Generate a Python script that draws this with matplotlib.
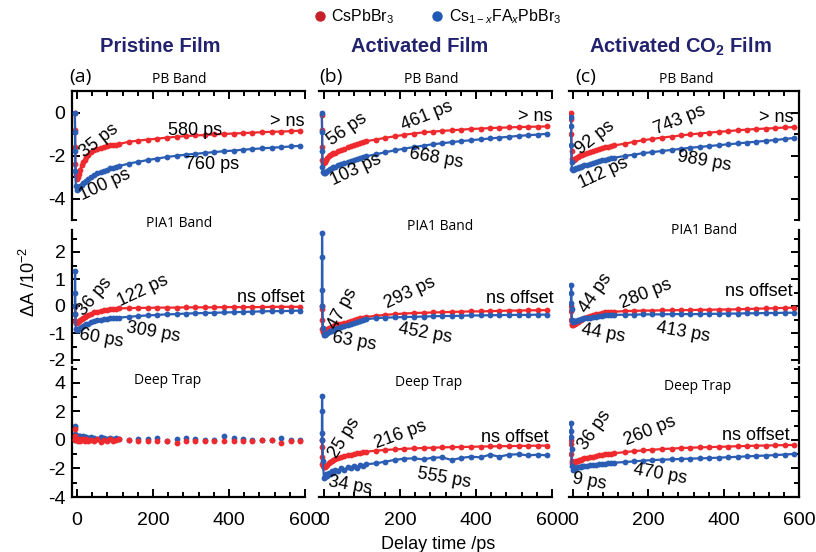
import matplotlib
matplotlib.use("Agg")
import matplotlib.pyplot as plt
from matplotlib import font_manager
from matplotlib.lines import Line2D
from matplotlib.ticker import MultipleLocator

# delay times (ps): dense early part, then the sparse long-time points
t_early = [-5.5, -5, -4.5, -4, -3, 0, 2, 5, 8, 12, 16, 20, 25, 30, 38, 46, 54, 62, 70, 78, 86, 94, 102, 110]
t_late = [137, 161, 186, 211, 236, 262, 286, 311, 336, 361, 387, 412, 437, 461, 486, 512, 537, 563, 587]
delay = t_early + t_late

# dA / 10^-2, CsPbBr3 (cs) and Cs1-xFAxPbBr3 (fa)
pb_pristine_cs = [0, -0.8, -1.6, -2.4, -2.9, -3.1, -3.0, -2.85, -2.65, -2.45, -2.3, -2.2, -2.07, -1.97, -1.83, -1.74,
                  -1.67, -1.62, -1.58, -1.54, -1.52, -1.5, -1.48, -1.46,
                  -1.35, -1.3, -1.25, -1.21, -1.16, -1.12, -1.09, -1.06, -1.04, -1.01, -0.99, -0.97, -0.95, -0.93,
                  -0.91, -0.89, -0.88, -0.86, -0.84]
pb_pristine_fa = [0, -0.9, -1.8, -2.7, -3.4, -3.58, -3.55, -3.5, -3.42, -3.35, -3.28, -3.22, -3.15, -3.08, -2.98, -2.9,
                  -2.82, -2.75, -2.69, -2.64, -2.59, -2.55, -2.51, -2.48,
                  -2.36, -2.28, -2.2, -2.13, -2.06, -2.0, -1.95, -1.91, -1.87, -1.83, -1.79, -1.76, -1.72, -1.69,
                  -1.66, -1.63, -1.6, -1.57, -1.54]
pia_pristine_cs = [0, 0.0, -0.3, -0.55, -0.62, -0.63, -0.6, -0.56, -0.52, -0.47, -0.43, -0.4, -0.36, -0.33, -0.28, -0.24,
                   -0.21, -0.18, -0.16, -0.14, -0.12, -0.11, -0.1, -0.09,
                   -0.08, -0.07, -0.07, -0.06, -0.06, -0.06, -0.05, -0.05, -0.05, -0.05, -0.04, -0.04, -0.04, -0.04,
                   -0.04, -0.03, -0.03, -0.03, -0.03]
pia_pristine_fa = [0, 1.3, 0.5, -0.3, -0.85, -0.89, -0.88, -0.85, -0.82, -0.78, -0.74, -0.71, -0.68, -0.65, -0.6, -0.56,
                   -0.53, -0.51, -0.49, -0.47, -0.46, -0.45, -0.44, -0.43,
                   -0.4, -0.37, -0.35, -0.33, -0.31, -0.3, -0.28, -0.27, -0.26, -0.25, -0.24, -0.23, -0.22, -0.21,
                   -0.2, -0.19, -0.19, -0.18, -0.17]
deep_pristine_cs = [0, 0.1, 0.8, 0.3, 0.1, 0.0, -0.1, 0.05, -0.05, 0.1, 0.0, -0.1, 0.05, -0.05, 0.0, -0.1,
                    0.05, -0.15, 0.0, -0.1, 0.05, -0.05, 0.0, 0.05,
                    0.0, -0.05, -0.09, -0.05, -0.05, -0.19, -0.05, -0.05, -0.05, -0.05, -0.05, -0.05, -0.05, -0.05,
                    0.0, 0.0, -0.19, -0.05, -0.05]
deep_pristine_fa = [0, 1.0, 0.9, 0.4, 0.3, 0.3, 0.25, 0.3, 0.25, 0.2, 0.25, 0.2, 0.2, 0.15, 0.2, 0.15,
                    0.1, 0.2, 0.15, 0.1, 0.15, 0.1, 0.15, 0.1,
                    0.0, 0.07, 0.07, 0.14, -0.05, 0.05, 0.14, 0.09, 0.0, 0.0, 0.28, 0.14, 0.07, 0.0,
                    0.0, 0.02, 0.16, 0.0, 0.0]

pb_activated_cs = [-0.1, -0.8, -1.6, -2.2, -2.35, -2.35, -2.3, -2.2, -2.12, -2.03, -1.96, -1.92, -1.89, -1.86, -1.8, -1.74,
                   -1.68, -1.6, -1.55, -1.49, -1.45, -1.4, -1.36, -1.33,
                   -1.25, -1.17, -1.1, -1.03, -0.97, -0.92, -0.88, -0.85, -0.82, -0.79, -0.76, -0.74, -0.72, -0.7,
                   -0.69, -0.67, -0.66, -0.65, -0.64]
pb_activated_fa = [0, -0.9, -1.8, -2.5, -2.75, -2.8, -2.78, -2.74, -2.7, -2.66, -2.62, -2.58, -2.54, -2.5, -2.45, -2.4,
                   -2.35, -2.29, -2.24, -2.19, -2.14, -2.1, -2.06, -2.03,
                   -1.93, -1.84, -1.75, -1.67, -1.6, -1.53, -1.47, -1.42, -1.37, -1.32, -1.28, -1.24, -1.2, -1.16,
                   -1.12, -1.08, -1.05, -1.02, -0.98]
pia_activated_cs = [0, -0.1, -0.5, -0.85, -0.95, -0.95, -0.93, -0.9, -0.87, -0.83, -0.8, -0.77, -0.74, -0.71, -0.68, -0.65,
                    -0.62, -0.58, -0.55, -0.52, -0.48, -0.45, -0.43, -0.41,
                    -0.36, -0.33, -0.3, -0.28, -0.26, -0.25, -0.24, -0.23, -0.22, -0.21, -0.2, -0.2, -0.19, -0.18,
                    -0.17, -0.17, -0.16, -0.16, -0.15]
pia_activated_fa = [0, 2.7, 1.8, 0.6, -0.8, -1.07, -1.06, -1.03, -1.0, -0.97, -0.94, -0.91, -0.88, -0.85, -0.8, -0.78,
                    -0.75, -0.7, -0.66, -0.62, -0.58, -0.55, -0.52, -0.49,
                    -0.45, -0.43, -0.42, -0.41, -0.4, -0.39, -0.38, -0.37, -0.37, -0.36, -0.35, -0.35, -0.34, -0.34,
                    -0.33, -0.33, -0.33, -0.32, -0.32]
deep_activated_cs = [0, -0.5, -1.2, -1.7, -1.85, -1.9, -1.87, -1.8, -1.72, -1.63, -1.55, -1.49, -1.42, -1.36, -1.28, -1.21,
                     -1.15, -1.08, -1.03, -0.98, -0.93, -0.89, -0.85, -0.82,
                     -0.75, -0.7, -0.66, -0.62, -0.59, -0.56, -0.54, -0.52, -0.5, -0.49, -0.48, -0.46, -0.45, -0.44,
                     -0.43, -0.42, -0.41, -0.4, -0.4]
deep_activated_fa = [0, 3.1, 2.0, 0.5, -1.5, -2.7, -2.6, -2.4, -2.5, -2.3, -2.4, -2.2, -2.3, -2.1, -2.2, -2.0,
                     -2.1, -1.9, -2.0, -1.8, -1.95, -1.75, -1.85, -1.7,
                     -1.64, -1.52, -1.4, -1.31, -1.29, -1.36, -1.24, -1.22, -1.4, -1.26, -1.17, -1.22, -1.03, -1.17,
                     -1.03, -1.0, -1.08, -1.03, -1.08]

pb_co2_cs = [0, -0.3, -1.0, -1.8, -2.15, -2.2, -2.18, -2.14, -2.1, -2.06, -2.02, -1.98, -1.95, -1.92, -1.87, -1.83,
             -1.8, -1.74, -1.69, -1.65, -1.61, -1.58, -1.55, -1.52,
             -1.44, -1.36, -1.28, -1.22, -1.16, -1.11, -1.06, -1.01, -0.97, -0.93, -0.89, -0.86, -0.82, -0.79,
             -0.76, -0.74, -0.72, -0.69, -0.67]
pb_co2_fa = [-0.2, -0.6, -1.5, -2.3, -2.6, -2.65, -2.63, -2.6, -2.57, -2.55, -2.52, -2.5, -2.47, -2.45, -2.41, -2.37,
             -2.34, -2.29, -2.25, -2.21, -2.18, -2.15, -2.12, -2.09,
             -2.01, -1.95, -1.88, -1.83, -1.78, -1.73, -1.68, -1.63, -1.59, -1.55, -1.51, -1.47, -1.43, -1.39,
             -1.35, -1.31, -1.27, -1.22, -1.18]
pia_co2_cs = [0, -0.2, -0.5, -0.65, -0.7, -0.7, -0.68, -0.65, -0.62, -0.58, -0.55, -0.51, -0.48, -0.45, -0.41, -0.37,
              -0.33, -0.31, -0.28, -0.26, -0.24, -0.23, -0.22, -0.21,
              -0.19, -0.18, -0.17, -0.17, -0.16, -0.16, -0.15, -0.15, -0.14, -0.14, -0.13, -0.13, -0.12, -0.11,
              -0.1, -0.09, -0.08, -0.07, -0.06]
pia_co2_fa = [0.1, 0.78, 0.5, -0.1, -0.5, -0.58, -0.57, -0.56, -0.54, -0.52, -0.5, -0.49, -0.47, -0.46, -0.44, -0.43,
              -0.42, -0.4, -0.38, -0.36, -0.35, -0.34, -0.33, -0.33,
              -0.32, -0.32, -0.31, -0.31, -0.31, -0.3, -0.3, -0.3, -0.3, -0.29, -0.29, -0.28, -0.28, -0.27,
              -0.27, -0.26, -0.26, -0.25, -0.25]
deep_co2_cs = [0, -0.3, -1.0, -1.5, -1.63, -1.64, -1.6, -1.55, -1.5, -1.45, -1.41, -1.37, -1.33, -1.29, -1.24, -1.2,
               -1.16, -1.11, -1.07, -1.03, -1.0, -0.98, -0.95, -0.93,
               -0.85, -0.79, -0.73, -0.68, -0.64, -0.6, -0.57, -0.54, -0.52, -0.5, -0.48, -0.46, -0.44, -0.42,
               -0.4, -0.39, -0.37, -0.36, -0.35]
deep_co2_fa = [0.2, 1.2, 0.6, -0.6, -1.8, -2.1, -2.05, -2.0, -1.95, -1.92, -1.9, -1.88, -1.85, -1.83, -1.8, -1.78,
               -1.75, -1.72, -1.7, -1.68, -1.65, -1.63, -1.61, -1.59,
               -1.55, -1.5, -1.45, -1.41, -1.38, -1.36, -1.33, -1.31, -1.29, -1.27, -1.24, -1.21, -1.18, -1.15,
               -1.12, -1.09, -1.06, -1.02, -0.98]

col_titles = ["Pristine Film", "Activated Film", r"Activated CO$_\mathbf{2}$ Film"]
row_titles = ["PB Band", "PIA1 Band", "Deep Trap"]
panel_letters = ["(a)", "(b)", "(c)"]

# fitted lifetimes written on each panel: (text, delay, dA, angle[, align])
labels = {
    (0, 0): [("35 ps", 58, -1.3, 38), ("580 ps", 310, -0.82, 0), ("> ns", 600, -0.42, 0, "right"),
             ("100 ps", 74, -3.35, 25), ("760 ps", 355, -2.4, 0)],
    (1, 0): [("36 ps", 47, 0.33, 50), ("122 ps", 174, 0.55, 25), ("ns offset", 600, 0.33, 0, "right"),
             ("60 ps", 63, -1.2, -10), ("309 ps", 200, -0.96, -10)],
    (0, 1): [("56 ps", 60, -0.8, 35), ("461 ps", 270, -0.17, 22), ("> ns", 600, -0.17, 0, "right"),
             ("103 ps", 83, -2.65, 25), ("668 ps", 296, -2.1, -10)],
    (1, 1): [("47 ps", 49, -0.09, 62), ("293 ps", 226, 0.47, 25), ("ns offset", 605, 0.26, 0, "right"),
             ("63 ps", 79, -1.32, -10), ("452 ps", 266, -1.01, -10)],
    (2, 1): [("25 ps", 53, 0.12, 58), ("216 ps", 202, 0.35, 20), ("ns offset", 592, 0.2, 0, "right"),
             ("34 ps", 68, -3.16, -10), ("555 ps", 316, -2.7, -10)],
    (0, 2): [("92 ps", 58, -1.18, 38), ("743 ps", 284, -0.33, 22), ("> ns", 585, -0.25, 0, "right"),
             ("112 ps", 80, -2.8, 25), ("989 ps", 347, -2.26, -10)],
    (1, 2): [("44 ps", 61, 0.49, 55), ("280 ps", 194, 0.44, 22), ("ns offset", 582, 0.53, 0, "right"),
             ("44 ps", 79, -1.01, -10), ("413 ps", 293, -0.99, -10)],
    (2, 2): [("36 ps", 58, 0.7, 55), ("260 ps", 204, 0.65, 22), ("ns offset", 576, 0.35, 0, "right"),
             ("9 ps", 43, -2.9, -10), ("470 ps", 231, -2.4, -10)],
}

data = {
    (0, 0): (pb_pristine_cs, pb_pristine_fa), (1, 0): (pia_pristine_cs, pia_pristine_fa),
    (2, 0): (deep_pristine_cs, deep_pristine_fa),
    (0, 1): (pb_activated_cs, pb_activated_fa), (1, 1): (pia_activated_cs, pia_activated_fa),
    (2, 1): (deep_activated_cs, deep_activated_fa),
    (0, 2): (pb_co2_cs, pb_co2_fa), (1, 2): (pia_co2_cs, pia_co2_fa), (2, 2): (deep_co2_cs, deep_co2_fa),
}

red = "#ee2a2f"
blue = "#2a5db3"
navy = "#22226e"

names = {f.name for f in font_manager.fontManager.ttflist}
narrow = "Liberation Sans Narrow" if "Liberation Sans Narrow" in names else "Liberation Sans"

plt.rcParams["font.family"] = ["Liberation Sans", "DejaVu Sans"]
plt.rcParams["axes.unicode_minus"] = False
plt.rcParams["mathtext.fontset"] = "custom"
plt.rcParams["mathtext.rm"] = "Liberation Sans"
plt.rcParams["mathtext.it"] = "Liberation Sans:italic"
plt.rcParams["mathtext.bf"] = narrow + ":bold"

W, H = 816, 552
fig = plt.figure(figsize=(W / 100, H / 100), dpi=100)

col_px = [(72.4, 305), (319.4, 552), (568.5, 799)]
row_px = [(91, 220.5), (230.4, 362.7), (367.3, 497)]
ylims = [(-5, 1.0), (-2.1, 2.8), (-4, 5.1)]
y_major = [2, 1, 2]
y_minor = [1, 0.5, 1]
title_x = [(0.46, 0.48, 0.51), (0.46, 0.52, 0.59), (0.41, 0.47, 0.56)]
title_y = [(1.09, 1.09, 1.09), (1.05, 1.03, 1.0), (0.9, 0.88, 0.85)]
letter_x = [-0.015, 0.0, 0.028]

for c in range(3):
    x0, x1 = col_px[c]
    for r in range(3):
        y0, y1 = row_px[r]
        ax = fig.add_axes([x0 / W, 1 - y1 / H, (x1 - x0) / W, (y1 - y0) / H])
        ax.patch.set_alpha(0)
        cs, fa = data[(r, c)]
        if (r, c) == (2, 0):
            ax.plot(delay, fa, "o", color=blue, ms=4.2, mec="none", zorder=2)
            ax.plot(delay, cs, "o", color=red, ms=4.2, mec="none", zorder=3)
        else:
            ax.plot(delay, cs, "-o", color=red, ms=4.2, mec="none", lw=1.6, zorder=2)
            ax.plot(delay, fa, "-o", color=blue, ms=4.2, mec="none", lw=1.6, zorder=3)

        ax.set_xlim(-12, 600)
        ax.set_ylim(*ylims[r])
        ax.xaxis.set_major_locator(MultipleLocator(200))
        ax.xaxis.set_minor_locator(MultipleLocator(40))
        ax.yaxis.set_major_locator(MultipleLocator(y_major[r]))
        ax.yaxis.set_minor_locator(MultipleLocator(y_minor[r]))

        for side in ["left", "right", "top", "bottom"]:
            ax.spines[side].set_linewidth(1.6)
        ax.spines["top"].set_visible(r == 0)
        ax.spines["bottom"].set_visible(r == 2)
        ax.spines["left"].set_visible(c == 0)
        ax.spines["right"].set_visible(c == 2)
        ax.tick_params(which="both", direction="in", width=1.4, labelsize=14,
                       top=(r == 0), bottom=(r == 2), left=(c == 0), right=(c == 2),
                       labelbottom=(r == 2), labelleft=(c == 0), labeltop=False, labelright=False)
        ax.tick_params(which="major", length=6)
        ax.tick_params(which="minor", length=3.5)
        ax.tick_params(axis="y", pad=5)
        ax.tick_params(axis="x", pad=11)

        ax.text(title_x[r][c], title_y[r][c], row_titles[r], transform=ax.transAxes,
                ha="center", va="center", fontsize=10, family=["Open Sans", "DejaVu Sans"])
        if r == 0:
            ax.text(letter_x[c], 1.108, panel_letters[c], transform=ax.transAxes, ha="left", va="center",
                    fontsize=14, family=["Open Sans", "DejaVu Sans"])

        for item in labels.get((r, c), []):
            txt, tx, ty, ang = item[:4]
            ha = item[4] if len(item) > 4 else "center"
            ax.text(tx, ty, txt, rotation=ang, rotation_mode="anchor", ha=ha, va="center",
                    fontsize=13, zorder=5)

col_centers = [160, 420, 680]
for c in range(3):
    fig.text(col_centers[c] / W, 1 - 47 / H, col_titles[c], ha="center", va="center",
             fontsize=14.5, fontweight="bold", color=navy, family=[narrow, "DejaVu Sans"])

handles = [Line2D([], [], ls="none", marker="o", ms=7.5, color="#c8202a", mec="none"),
           Line2D([], [], ls="none", marker="o", ms=7.5, color="#1f58b5", mec="none")]
fig.legend(handles, [r"CsPbBr$_3$", r"Cs$_{\mathit{1-x}}$FA$_{\mathit{x}}$PbBr$_3$"],
           loc="center", bbox_to_anchor=(0.535, 1 - 17 / H), ncol=2, frameon=False,
           fontsize=11.5, handletextpad=0.2, columnspacing=2.2, handlelength=1.0)

fig.text(0.035, 0.49, r"$\Delta$A /10$^{-2}$", rotation=90, ha="center", va="center", fontsize=13)
fig.text(0.537, 0.014, "Delay time /ps", ha="center", va="center", fontsize=13)

fig.savefig("out.png", dpi=100)
